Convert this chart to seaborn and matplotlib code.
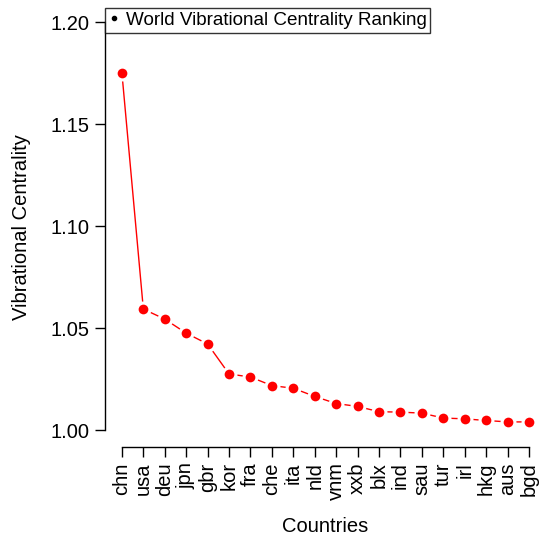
import matplotlib
matplotlib.use("Agg")
import matplotlib.pyplot as plt
import seaborn as sns
import pandas as pd
from matplotlib.lines import Line2D

countries = ["chn", "usa", "deu", "jpn", "gbr", "kor", "fra", "che", "ita", "nld",
             "vnm", "xxb", "blx", "ind", "sau", "tur", "irl", "hkg", "aus", "bgd"]
centrality = [1.175, 1.0593, 1.0544, 1.0475, 1.0422, 1.0275, 1.026, 1.0218, 1.0205, 1.0165,
              1.0130, 1.0116, 1.0090, 1.0088, 1.0083, 1.0059, 1.0055, 1.0047, 1.0040, 1.0040]

df = pd.DataFrame({"idx": range(len(countries)), "country": countries, "vc": centrality})

sns.set_style("white")
plt.rcParams["font.family"] = ["Liberation Sans", "DejaVu Sans"]
plt.rcParams["text.color"] = "black"
plt.rcParams["axes.labelcolor"] = "black"
plt.rcParams["xtick.color"] = "black"
plt.rcParams["ytick.color"] = "black"

W, H = 543, 537
fig = plt.figure(figsize=(W / 100, H / 100), dpi=100)
ax = fig.add_axes([105 / W, 1 - 447 / H, (545 - 105) / W, (447 - 8) / H])

sns.lineplot(data=df, x="idx", y="vc", ax=ax, color="red", linewidth=1,
             marker="o", markersize=7.5, markerfacecolor="red",
             markeredgecolor="white", markeredgewidth=4)
ax.plot(df["idx"], df["vc"], "o", color="red", markersize=7, markeredgewidth=0)

ax.set_xlim(-0.79, 19.75)
ax.set_ylim(0.9917, 1.2069)
ax.set_xticks(df["idx"])
ax.set_xticklabels(countries)
ax.set_yticks([1.00, 1.05, 1.10, 1.15, 1.20])
ax.set_yticklabels(["1.00", "1.05", "1.10", "1.15", "1.20"])
ax.tick_params(axis="both", direction="out", length=7, width=1, colors="black",
               bottom=True, left=True, pad=4, labelsize=14.5)
ax.tick_params(axis="x", labelrotation=90)
for s in ["top", "right"]:
    ax.spines[s].set_visible(False)
for s in ["left", "bottom"]:
    ax.spines[s].set_color("black")
    ax.spines[s].set_linewidth(1)
ax.spines["left"].set_bounds(1.00, 1.20)
ax.spines["bottom"].set_bounds(0, 19)

ax.set_xlabel("Countries", fontsize=14.5, labelpad=12, color="black")
ax.set_ylabel("Vibrational Centrality", fontsize=14.5, labelpad=14, color="black")

handle = Line2D([], [], marker="o", color="black", linestyle="none", markersize=3)
leg = ax.legend([handle], ["World Vibrational Centrality Ranking"], loc="upper left",
                borderaxespad=0, fancybox=False, frameon=True, fontsize=13.6,
                handlelength=0.5, handletextpad=0.4, borderpad=0.2, labelcolor="black")
leg.get_frame().set_edgecolor("black")
leg.get_frame().set_linewidth(1)

fig.savefig("out.png", dpi=100)
